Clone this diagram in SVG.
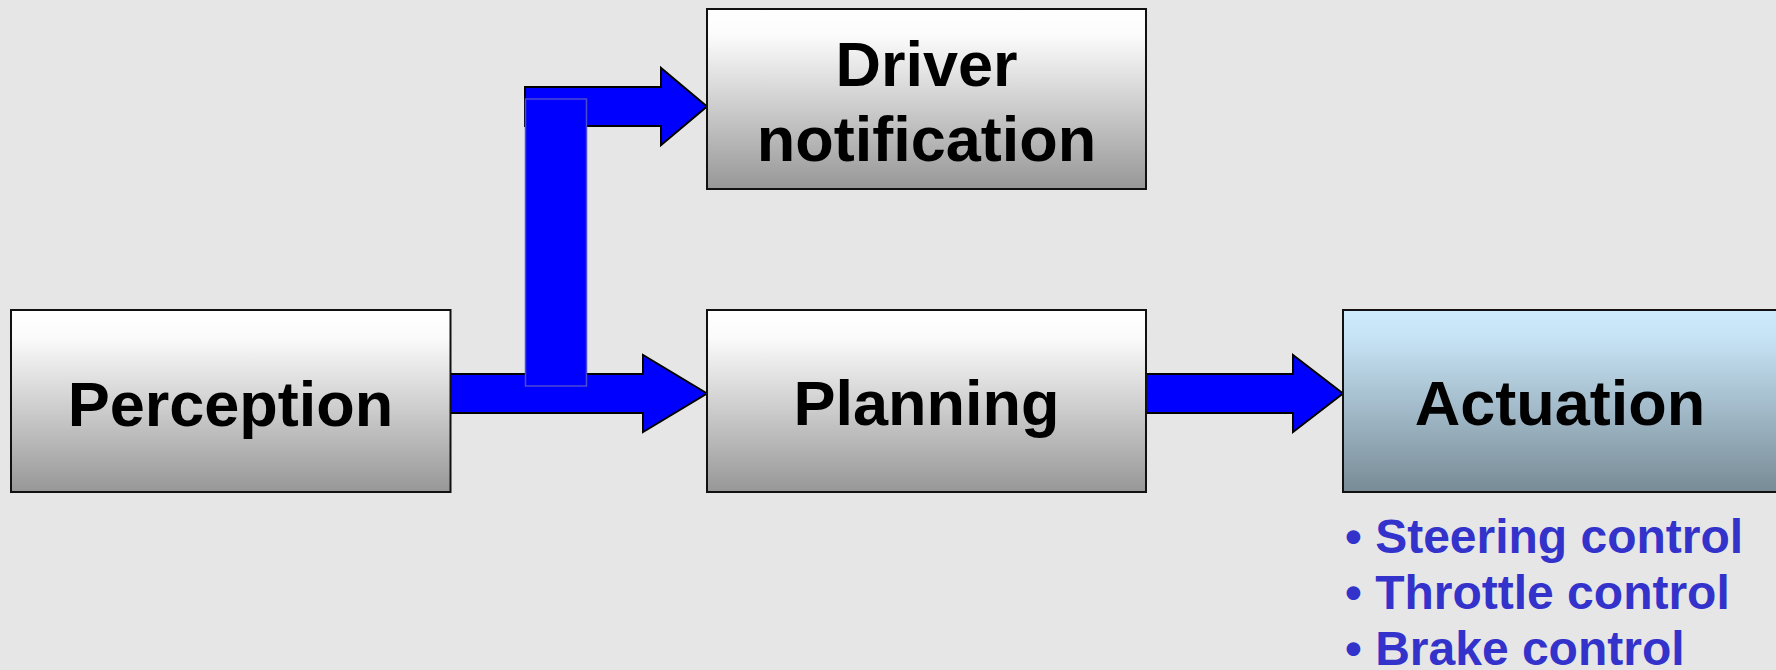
<svg xmlns="http://www.w3.org/2000/svg" width="1776" height="670" viewBox="0 0 1776 670">
  <defs>
    <linearGradient id="grayFill" x1="0" y1="0" x2="0" y2="1">
      <stop offset="0" stop-color="#ffffff"/>
      <stop offset="0.15" stop-color="#fbfbfb"/>
      <stop offset="1" stop-color="#979797"/>
    </linearGradient>
    <linearGradient id="blueFill" x1="0" y1="0" x2="0" y2="1">
      <stop offset="0" stop-color="#cdebfd"/>
      <stop offset="0.15" stop-color="#c6e3f5"/>
      <stop offset="1" stop-color="#788b96"/>
    </linearGradient>
    <style>
      .box { stroke: #111111; stroke-width: 2; }
      .gray { fill: url(#grayFill); }
      .blue { fill: url(#blueFill); }
      .label { font-family: "Liberation Sans", Arial, sans-serif; font-weight: bold; font-size: 63px; fill: #000000; text-anchor: middle; }
      .arrow { fill: #0000ff; stroke: #000000; stroke-width: 2; stroke-linejoin: miter; }
      .bar { fill: #0000ff; stroke: #4a4ad2; stroke-width: 1.5; }
      .bullet { font-family: "Liberation Sans", Arial, sans-serif; font-weight: bold; font-size: 48px; fill: #3333cc; }
    </style>
  </defs>

  <rect width="1776" height="670" fill="#e6e6e6"/>

  <!-- block arrows between stages -->
  <g id="connectors">
    <polygon class="arrow" points="450,374 643,374 643,355 707,393.5 643,432 643,413 450,413"/>
    <polygon class="arrow" points="525,87 661,87 661,68 707,106.5 661,145 661,126 525,126"/>
    <polygon class="arrow" points="1146,374 1293,374 1293,355 1343,393.5 1293,432 1293,413 1146,413"/>
    <!-- vertical riser joining the two branches -->
    <rect class="bar" x="525.5" y="99" width="61" height="287"/>
  </g>

  <g id="perception">
    <rect class="box gray" x="11" y="310" width="439.5" height="182"/>
    <text class="label" x="230.5" y="426">Perception</text>
  </g>

  <g id="driver-notification">
    <rect class="box gray" x="707" y="9" width="439" height="180"/>
    <text class="label" x="926.5" y="86">Driver</text>
    <text class="label" x="926.5" y="161">notification</text>
  </g>

  <g id="planning">
    <rect class="box gray" x="707" y="310" width="439" height="182"/>
    <text class="label" x="926.5" y="425">Planning</text>
  </g>

  <g id="actuation">
    <rect class="box blue" x="1343" y="310" width="439" height="182"/>
    <text class="label" x="1560" y="425">Actuation</text>
    <text class="bullet" x="1345" y="553">• Steering control</text>
    <text class="bullet" x="1345" y="609">• Throttle control</text>
    <text class="bullet" x="1345" y="665">• Brake control</text>
  </g>
</svg>
